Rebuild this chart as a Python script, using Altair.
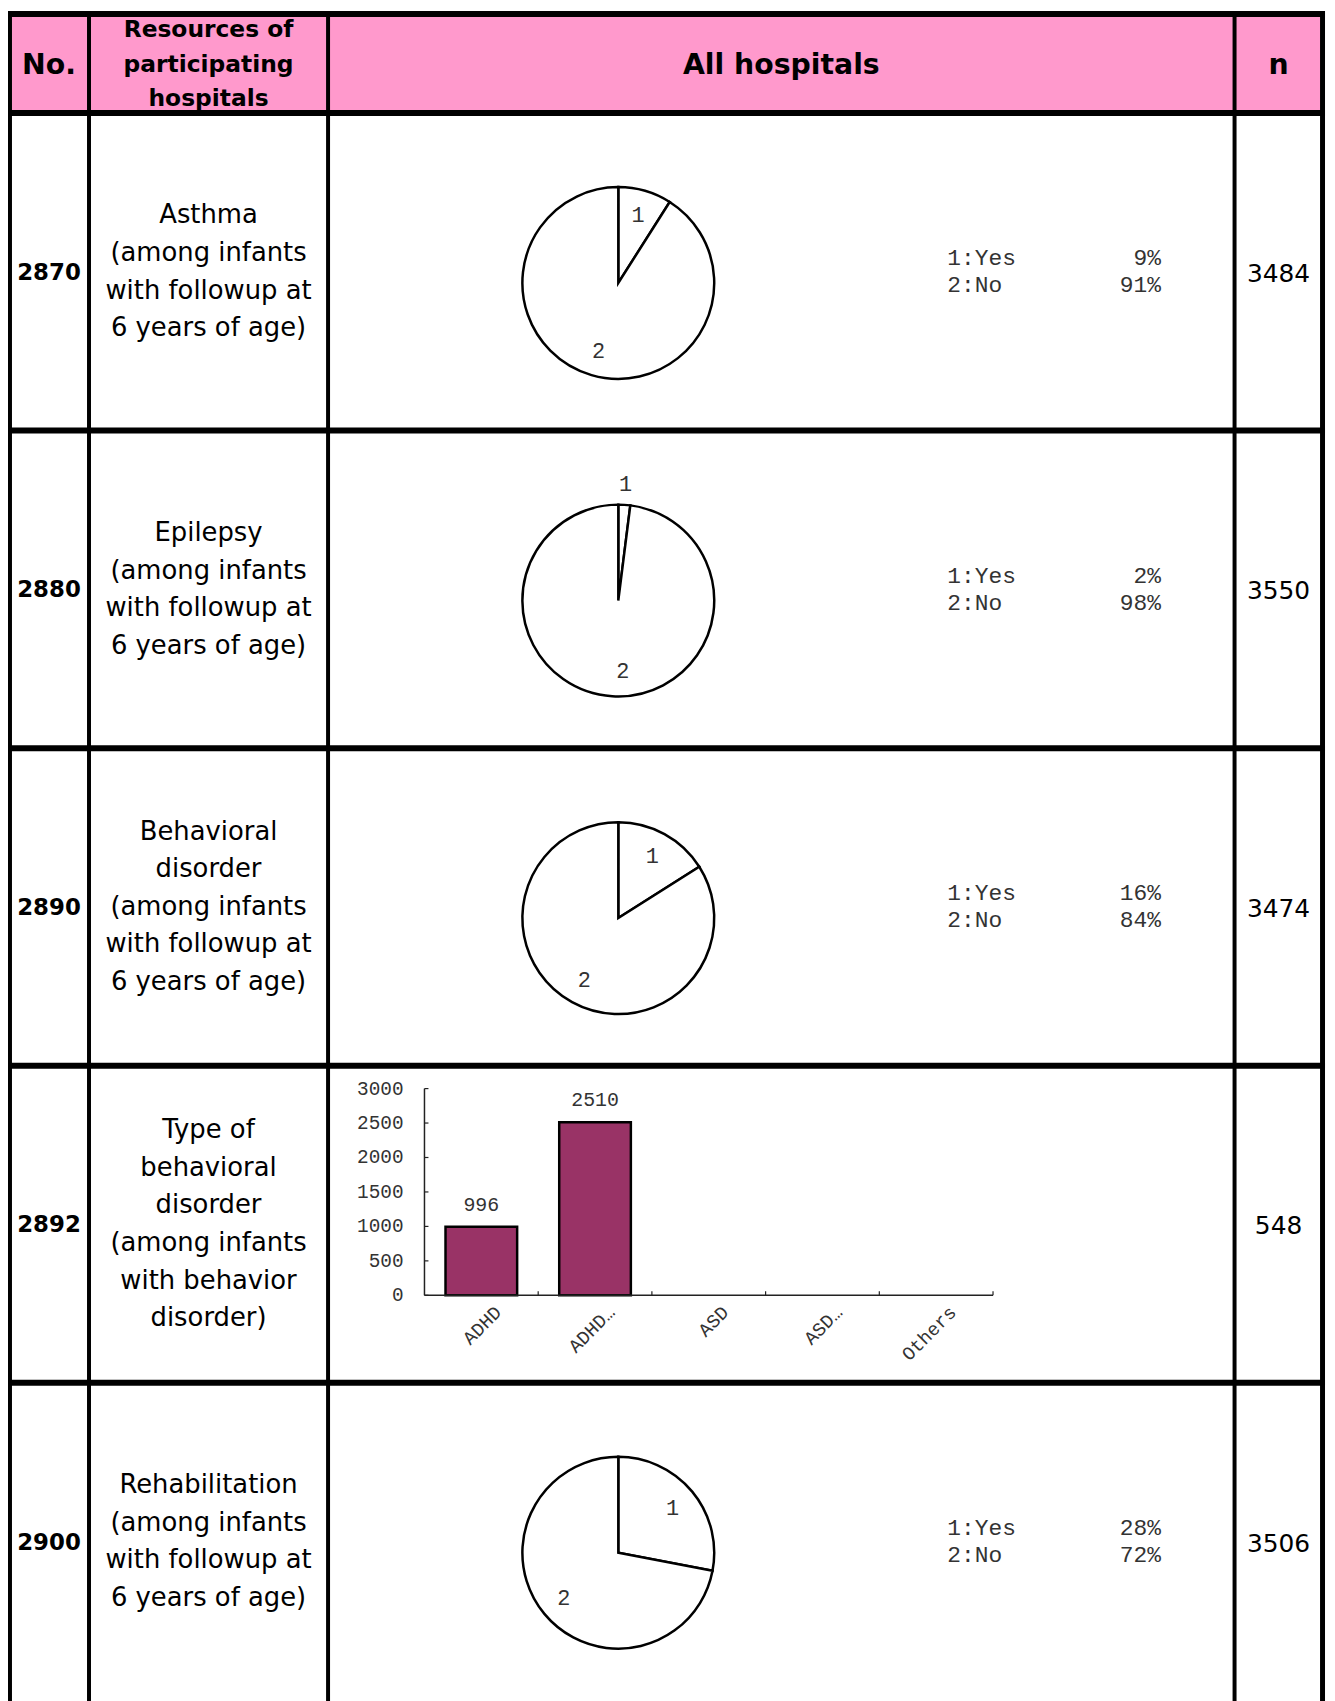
import altair as alt
import pandas as pd

# ---------------- data ----------------
header_labels = ["No.", "Resources of\nparticipating\nhospitals", "All hospitals", "n"]
item_numbers = ["2870", "2880", "2890", "2892", "2900"]
item_labels = [
    "Asthma\n(among infants\nwith followup at\n6 years of age)",
    "Epilepsy\n(among infants\nwith followup at\n6 years of age)",
    "Behavioral\ndisorder\n(among infants\nwith followup at\n6 years of age)",
    "Type of\nbehavioral\ndisorder\n(among infants\nwith behavior\ndisorder)",
    "Rehabilitation\n(among infants\nwith followup at\n6 years of age)",
]
n_counts = [3484, 3550, 3474, 548, 3506]

pie_codes = ["1", "2"]
pie_names = ["Yes", "No"]
pie_asthma = [9, 91]
pie_epilepsy = [2, 98]
pie_behavior = [16, 84]
pie_rehab = [28, 72]
pie_rows = {0: pie_asthma, 1: pie_epilepsy, 2: pie_behavior, 4: pie_rehab}

bar_categories = ["ADHD", "ADHD\u2026", "ASD", "ASD\u2026", "Others"]
bar_counts = [996, 2510, None, None, None]
bar_ticks = [0, 500, 1000, 1500, 2000, 2500, 3000]

# ---------------- layout (page pixels) ----------------
ORIGIN = 8
W, H = 1327, 1693
COL = [9, 89.5, 330, 1242, 1330.5]
COL_W = [6, 4, 4, 4, 5]
ROW = [9, 108.5, 428, 747.5, 1067, 1386]
ROW_W = 6
BOTTOM = 1712
ROW_BOUNDS = [(ROW[i + 1], ROW[i + 2] if i + 2 < len(ROW) else ROW[-1] + 319.5) for i in range(5)]

PIE_X, PIE_R, PIE_DY = 622, 96.5, 11.25
LABEL_R, LABEL_R_OUT = 71, 117
LEGEND_X, PCT_X = 953, 1168
BAR_X0, BAR_X1, BAR_Y0, BAR_Y1 = 427, 999, 1298, 1090
PAD_IN = 0.37

SANS = "DejaVu Sans"
MONO = "Liberation Mono"
PINK = "#FF99CC"
PLUM = "#993366"
INK = "#333333"


def px(v):
    return v - ORIGIN


def mid(i):
    a, b = ROW_BOUNDS[i]
    return (a + b) / 2


def first_line(center, text, lh):
    return center - (len(text.split("\n")) - 1) * lh / 2


layers = []

# header background
header_df = pd.DataFrame([{"x": px(COL[0]), "x2": px(COL[-1]), "y": px(ROW[0]), "y2": px(ROW[1])}])
layers.append(
    alt.Chart(header_df).mark_rect(fill=PINK).encode(
        x=alt.X("x:Q", scale=None), x2="x2:Q", y=alt.Y("y:Q", scale=None), y2="y2:Q"
    )
)

# grid lines
line_rows = []
for yv in ROW:
    line_rows.append({"x": px(COL[0] - 3), "x2": px(COL[-1] + 2.5), "y": px(yv), "y2": px(yv), "sw": ROW_W})
for xv, w in zip(COL, COL_W):
    line_rows.append({"x": px(xv), "x2": px(xv), "y": px(ROW[0] - 3), "y2": px(BOTTOM), "sw": w})
lines_df = pd.DataFrame(line_rows)

# header texts
col_centers = [(COL[i] + COL[i + 1]) / 2 for i in range(4)]
head_y = 60
big_head = pd.DataFrame([
    {"x": px(col_centers[0]), "y": px(head_y), "t": header_labels[0]},
    {"x": px(col_centers[2]), "y": px(head_y), "t": header_labels[2]},
    {"x": px(col_centers[3]), "y": px(head_y), "t": header_labels[3]},
])
layers.append(
    alt.Chart(big_head).mark_text(font=SANS, fontSize=28.5, fontWeight="bold", color="black",
                                  align="center", baseline="middle").encode(
        x=alt.X("x:Q", scale=None), y=alt.Y("y:Q", scale=None), text="t:N")
)
HEAD_LH = 34.7
small_head = pd.DataFrame([{"x": px(col_centers[1]),
                            "y": px(first_line(head_y, header_labels[1], HEAD_LH)),
                            "t": header_labels[1]}])
layers.append(
    alt.Chart(small_head).mark_text(font=SANS, fontSize=23.5, fontWeight="bold", color="black",
                                    align="center", baseline="middle", lineBreak="\n",
                                    lineHeight=HEAD_LH).encode(
        x=alt.X("x:Q", scale=None), y=alt.Y("y:Q", scale=None), text="t:N")
)

# item numbers
no_df = pd.DataFrame({"x": [px(col_centers[0])] * 5, "y": [px(mid(i) + 1) for i in range(5)], "t": item_numbers})
layers.append(
    alt.Chart(no_df).mark_text(font=SANS, fontSize=23, fontWeight="bold", color="black",
                               align="center", baseline="middle").encode(
        x=alt.X("x:Q", scale=None), y=alt.Y("y:Q", scale=None), text="t:N")
)

# item descriptions
DESC_LH = 37.8
desc_df = pd.DataFrame({"x": [px(col_centers[1])] * 5,
                        "y": [px(first_line(mid(i), item_labels[i], DESC_LH)) for i in range(5)],
                        "t": item_labels})
layers.append(
    alt.Chart(desc_df).mark_text(font=SANS, fontSize=26, color="black", align="center",
                                 baseline="middle", lineBreak="\n", lineHeight=DESC_LH).encode(
        x=alt.X("x:Q", scale=None), y=alt.Y("y:Q", scale=None), text="t:N")
)

# n values
n_df = pd.DataFrame({"x": [px(col_centers[3])] * 5, "y": [px(mid(i) + 2) for i in range(5)],
                     "t": [str(v) for v in n_counts]})
layers.append(
    alt.Chart(n_df).mark_text(font=SANS, fontSize=25, color="black", align="center",
                              baseline="middle").encode(
        x=alt.X("x:Q", scale=None), y=alt.Y("y:Q", scale=None), text="t:N")
)

# pies
theta_scale = alt.Scale(domain=[0, 100])
for row, values in pie_rows.items():
    cy = px(mid(row) + PIE_DY)
    cx = px(PIE_X)
    pdf = pd.DataFrame({
        "k": [int(c) for c in pie_codes],
        "code": pie_codes,
        "pct": values,
        "lr": [LABEL_R_OUT if v < 5 else LABEL_R for v in values],
    })
    layers.append(
        alt.Chart(pdf).mark_arc(radius=PIE_R, fill="white", stroke="black", strokeWidth=2.5).encode(
            theta=alt.Theta("pct:Q", stack=True, scale=theta_scale),
            detail="k:N",
            order=alt.Order("k:Q"),
            x=alt.value(cx), y=alt.value(cy))
    )
    layers.append(
        alt.Chart(pdf).mark_text(font=MONO, fontSize=22, color=INK,
                                 align="center", baseline="middle").encode(
            theta=alt.Theta("pct:Q", stack=True, scale=theta_scale),
            detail="k:N",
            order=alt.Order("k:Q"),
            radius=alt.Radius("lr:Q", scale=None),
            text="code:N",
            x=alt.value(cx), y=alt.value(cy))
    )
    base_y = mid(row)
    leg = pd.DataFrame({
        "x": [px(LEGEND_X)] * 2,
        "x2": [px(PCT_X)] * 2,
        "y": [px(base_y - 13.5), px(base_y + 13.5)],
        "name": [f"{c}:{n}" for c, n in zip(pie_codes, pie_names)],
        "pct": [f"{v}%" for v in values],
    })
    layers.append(
        alt.Chart(leg).mark_text(font=MONO, fontSize=23, color=INK, align="left",
                                 baseline="middle").encode(
            x=alt.X("x:Q", scale=None), y=alt.Y("y:Q", scale=None), text="name:N")
    )
    layers.append(
        alt.Chart(leg).mark_text(font=MONO, fontSize=23, color=INK, align="right",
                                 baseline="middle").encode(
            x=alt.X("x2:Q", scale=None), y=alt.Y("y:Q", scale=None), text="pct:N")
    )

# bar chart
bar_df = pd.DataFrame({"cat": bar_categories, "v": bar_counts})
xs = alt.Scale(domain=bar_categories, range=[px(BAR_X0), px(BAR_X1)],
               paddingInner=PAD_IN, paddingOuter=PAD_IN / 2)
ys = alt.Scale(domain=[0, 3000], range=[px(BAR_Y0), px(BAR_Y1)])
layers.append(
    alt.Chart(bar_df).transform_filter("isValid(datum.v)").mark_bar(
        fill=PLUM, stroke="black", strokeWidth=2.5).encode(
        x=alt.X("cat:N", scale=xs, axis=None, sort=bar_categories),
        y=alt.Y("v:Q", scale=ys, axis=None))
)
layers.append(
    alt.Chart(bar_df).transform_filter("isValid(datum.v)").mark_text(
        font=MONO, fontSize=20, color=INK, dy=-22, baseline="middle").encode(
        x=alt.X("cat:N", scale=xs, axis=None, sort=bar_categories),
        y=alt.Y("v:Q", scale=ys, axis=None),
        text=alt.Text("v:Q", format="d"))
)
# category labels (rotated)
layers.append(
    alt.Chart(bar_df).mark_text(font=MONO, fontSize=19, color=INK, angle=315, align="right",
                                baseline="middle", dy=22, dx=2).encode(
        x=alt.X("cat:N", scale=xs, axis=None, sort=bar_categories),
        y=alt.value(px(BAR_Y0)),
        text="cat:N")
)
# value axis labels
tick_df = pd.DataFrame({"v": bar_ticks})
layers.append(
    alt.Chart(tick_df).mark_text(font=MONO, fontSize=19.5, color=INK, align="right",
                                 baseline="middle").encode(
        y=alt.Y("v:Q", scale=ys, axis=None),
        x=alt.value(px(BAR_X0 - 21)),
        text=alt.Text("v:Q", format="d"))
)
# axis lines
dom_df = pd.DataFrame({"lo": [min(bar_ticks)], "hi": [max(bar_ticks)]})
layers.append(
    alt.Chart(dom_df).mark_rule(color="#222222", strokeWidth=1.5).encode(
        y=alt.Y("lo:Q", scale=ys, axis=None), y2="hi:Q", x=alt.value(px(BAR_X0)))
)
layers.append(
    alt.Chart(dom_df).mark_rule(color="#222222", strokeWidth=1.5).encode(
        y=alt.Y("lo:Q", scale=ys, axis=None), x=alt.value(px(BAR_X0)), x2=alt.value(px(BAR_X1)))
)
# inside tick marks at category boundaries
step = (BAR_X1 - BAR_X0) / len(bar_categories)
layers.append(
    alt.Chart(bar_df).mark_rule(color="#222222", strokeWidth=1.2,
                                xOffset=step * PAD_IN / 2).encode(
        x=alt.X("cat:N", scale=xs, axis=None, sort=bar_categories, bandPosition=1),
        y=alt.value(px(BAR_Y0)), y2=alt.value(px(BAR_Y0) - 4))
)
layers.append(
    alt.Chart(tick_df).mark_rule(color="#222222", strokeWidth=1.2).encode(
        y=alt.Y("v:Q", scale=ys, axis=None),
        x=alt.value(px(BAR_X0)), x2=alt.value(px(BAR_X0) + 4))
)

# grid lines on top
layers.append(
    alt.Chart(lines_df).mark_rule(color="black").encode(
        x=alt.X("x:Q", scale=None), x2="x2:Q", y=alt.Y("y:Q", scale=None), y2="y2:Q",
        strokeWidth=alt.StrokeWidth("sw:Q", scale=None))
)

chart = alt.layer(*layers).properties(
    width=W, height=H, padding=0, autosize=alt.AutoSizeParams(type="none")
).configure_view(stroke=None)

chart.save("out.html", embed_options={"renderer": "svg", "actions": False})
